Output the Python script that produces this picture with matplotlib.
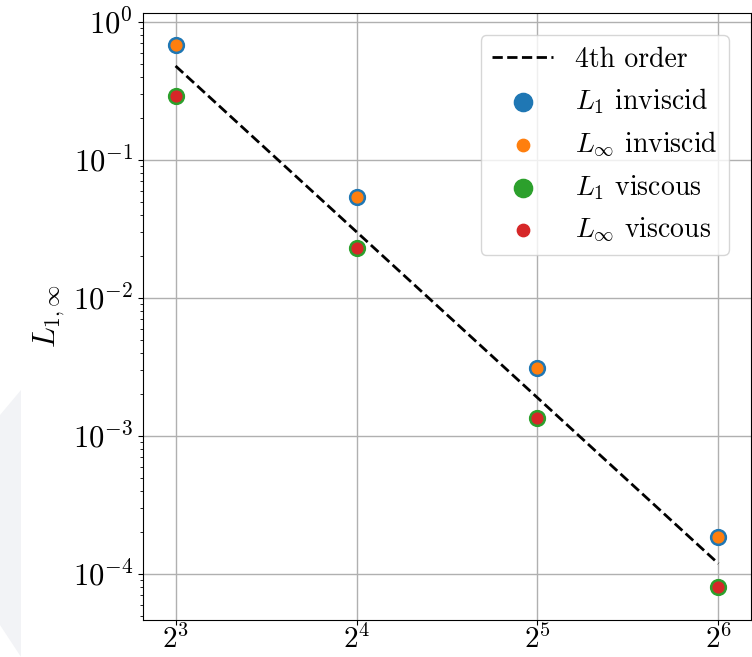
import matplotlib
matplotlib.use('Agg')
import matplotlib.pyplot as plt
import matplotlib.patches as mpatches
import numpy as np

# data
n = [8, 16, 32, 64]
l1_inviscid = [0.68, 0.054, 3.1e-3, 1.85e-4]
linf_inviscid = [0.68, 0.054, 3.1e-3, 1.85e-4]
l1_viscous = [0.292, 0.0232, 1.34e-3, 8.0e-5]
linf_viscous = [0.292, 0.0232, 1.34e-3, 8.0e-5]
# 4th order reference line endpoints
n_ref = [8, 64]
err_ref = [0.48, 1.19e-4]

plt.rcParams['font.family'] = 'cmr10'
plt.rcParams['mathtext.fontset'] = 'cm'
plt.rcParams['axes.formatter.use_mathtext'] = True
plt.rcParams['axes.unicode_minus'] = False

fig = plt.figure(figsize=(7.52, 6.57), dpi=100)

# faint grey shape at the left edge
fig.patches.append(mpatches.Polygon([(0, 1 - 415/657.), (21/752., 1 - 390/657.),
                                     (21/752., 0), (0, 1 - 625/657.)],
                                    closed=True, transform=fig.transFigure,
                                    facecolor='#f2f3f6', edgecolor='none', zorder=0))

ax = fig.add_axes([143/752., 1 - 620/657., 608/752., 607/657.])
ax.set_xscale('log', base=2)
ax.set_yscale('log')

ax.plot(n_ref, err_ref, 'k--', lw=2, label='4th order', zorder=3)
ax.scatter(n, l1_inviscid, s=130, c='tab:blue', label=r'$L_1$ inviscid', zorder=4)
ax.scatter(n, linf_inviscid, s=60, c='tab:orange', label=r'$L_\infty$ inviscid', zorder=5)
ax.scatter(n, l1_viscous, s=130, c='tab:green', label=r'$L_1$ viscous', zorder=4)
ax.scatter(n, linf_viscous, s=60, c='tab:red', label=r'$L_\infty$ viscous', zorder=5)

ax.set_xlim(2**2.82, 2**6.18)
ax.set_ylim(10**-4.333, 10**0.065)
ax.set_xticks(n)
ax.xaxis.set_minor_locator(matplotlib.ticker.NullLocator())
ax.grid(True, color='#b0b0b0', lw=1)
ax.set_axisbelow(True)
ax.tick_params(axis='y', labelsize=22)
ax.tick_params(axis='x', labelsize=21, pad=0)
ax.set_ylabel(r'$L_{1,\infty}$', fontsize=22)

ax.legend(loc='upper right', fontsize=20, markerscale=1.15, handlelength=2.2,
          borderaxespad=0.8)

fig.savefig('out.png', dpi=100)
